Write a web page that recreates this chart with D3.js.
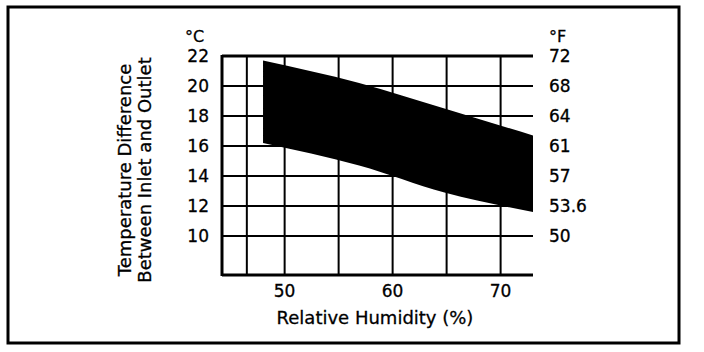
<!DOCTYPE html>
<html>
<head>
<meta charset="utf-8">
<script src="https://cdn.jsdelivr.net/npm/d3@7"></script>
<style>
  body { margin: 0; background: #fff; }
  svg { display: block; font-family: "DejaVu Sans", "Liberation Sans", Arial, sans-serif; }
  text { fill: #000; stroke: #000; stroke-width: 0.3px; }
</style>
</head>
<body>
<svg id="chart" width="704" height="352"></svg>
<script>
// band of temperature difference vs humidity
const humidity = [48, 56.9, 64.8, 73];
const upperC = [21.7, 20.2, 18.5, 16.7];
const lowerC = [16.2, 14.7, 12.9, 11.6];

const celsiusTicks = [22, 20, 18, 16, 14, 12, 10];
const fahrenheitLabels = ['72', '68', '64', '61', '57', '53.6', '50'];
const humidityTicks = [50, 60, 70];
const humidityGrid = [46.5, 50, 55, 60, 65, 70];

const svg = d3.select('#chart');
const x = d3.scaleLinear().domain([44.2, 73]).range([222, 533]);
const y = d3.scaleLinear().domain([22, 10]).range([56, 236]);
const yBottom = 275;

// outer frame
svg.append('rect')
  .attr('x', 8).attr('y', 7)
  .attr('width', 671).attr('height', 336)
  .attr('fill', 'none').attr('stroke', '#000').attr('stroke-width', 3);

// band
const band = d3.area()
  .x((d, i) => x(humidity[i]))
  .y0((d, i) => y(lowerC[i]))
  .y1((d, i) => y(upperC[i]))
  .curve(d3.curveMonotoneX);
svg.append('path')
  .datum(humidity)
  .attr('d', band)
  .attr('fill', '#000');

// grid
svg.append('g').selectAll('line')
  .data(celsiusTicks)
  .enter().append('line')
  .attr('x1', x.range()[0]).attr('x2', x.range()[1])
  .attr('y1', d => y(d)).attr('y2', d => y(d))
  .attr('stroke', '#000').attr('stroke-width', 2);

svg.append('g').selectAll('line')
  .data(humidityGrid)
  .enter().append('line')
  .attr('x1', d => x(d)).attr('x2', d => x(d))
  .attr('y1', y(22)).attr('y2', yBottom)
  .attr('stroke', '#000').attr('stroke-width', 2);

// frame: left, top and bottom
svg.append('line')
  .attr('x1', x.range()[0]).attr('x2', x.range()[0])
  .attr('y1', y(22) - 1).attr('y2', yBottom + 1)
  .attr('stroke', '#000').attr('stroke-width', 3);
svg.append('line')
  .attr('x1', x.range()[0]).attr('x2', x.range()[1])
  .attr('y1', yBottom).attr('y2', yBottom)
  .attr('stroke', '#000').attr('stroke-width', 3);
svg.append('line')
  .attr('x1', x.range()[0]).attr('x2', x.range()[1])
  .attr('y1', y(22)).attr('y2', y(22))
  .attr('stroke', '#000').attr('stroke-width', 3);

// left labels
svg.append('g').selectAll('text')
  .data(celsiusTicks)
  .enter().append('text')
  .attr('x', 209).attr('y', d => y(d))
  .attr('dy', '0.36em')
  .attr('text-anchor', 'end')
  .attr('font-size', 17)
  .text(d => d);
svg.append('text')
  .attr('x', 185).attr('y', 42)
  .attr('font-size', 16)
  .text('°C');

// right labels
svg.append('g').selectAll('text')
  .data(celsiusTicks)
  .enter().append('text')
  .attr('x', 549).attr('y', d => y(d))
  .attr('dy', '0.36em')
  .attr('font-size', 17)
  .text((d, i) => fahrenheitLabels[i]);
svg.append('text')
  .attr('x', 549).attr('y', 42)
  .attr('font-size', 16)
  .text('°F');

// bottom labels
svg.append('g').selectAll('text')
  .data(humidityTicks)
  .enter().append('text')
  .attr('x', d => x(d)).attr('y', 297)
  .attr('text-anchor', 'middle')
  .attr('font-size', 17)
  .text(d => d);
svg.append('text')
  .attr('x', 375).attr('y', 324)
  .attr('text-anchor', 'middle')
  .attr('font-size', 18)
  .text('Relative Humidity (%)');

// y title
const yTitle = svg.append('text')
  .attr('transform', 'translate(131,170) rotate(-90)')
  .attr('text-anchor', 'middle')
  .attr('font-size', 18);
yTitle.append('tspan').attr('x', 0).attr('dy', 0).text('Temperature Difference');
yTitle.append('tspan').attr('x', 0).attr('dy', 20).text('Between Inlet and Outlet');
</script>
</body>
</html>
